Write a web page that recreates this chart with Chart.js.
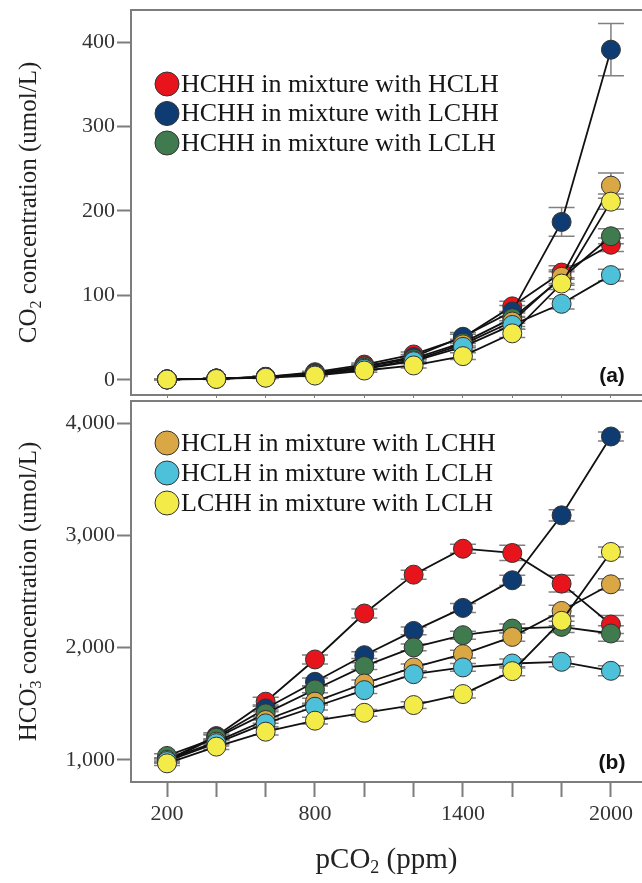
<!DOCTYPE html>
<html>
<head>
<meta charset="utf-8">
<script src="https://cdn.jsdelivr.net/npm/chart.js@4.4.1/dist/chart.umd.min.js"></script>
<style>
    html, body { margin: 0; padding: 0; background: #fff; }
    #lienzo { position: relative; width: 642px; height: 883px; overflow: hidden; }
    #panelA { position: absolute; left: 0; top: 0; }
    #panelB { position: absolute; left: 0; top: 398px; }
</style>
</head>
<body>
<div id="lienzo">
    <canvas id="panelA" width="642" height="398"></canvas>
    <canvas id="panelB" width="642" height="485"></canvas>
</div>
<script>
// --- DATOS ---
const pco2 = [200, 400, 600, 800, 1000, 1200, 1400, 1600, 1800, 2000];
const xTickLabels = [200, 800, 1400, 2000];
const co2Ticks = [0, 100, 200, 300, 400];
const hco3Ticks = [1000, 2000, 3000, 4000];

const seriesNames = [
    'HCHH in mixture with HCLH',
    'HCHH in mixture with LCHH',
    'HCHH in mixture with LCLH',
    'HCLH in mixture with LCHH',
    'HCLH in mixture with LCLH',
    'LCHH in mixture with LCLH'
];
const seriesColors = ['#e8141c', '#0d3b72', '#3f7b4f', '#d9a744', '#4ec1da', '#f3ec48'];

// (a) CO2 (umol/L)
const co2Red    = [0.5, 1.5, 3.5, 9, 18, 30, 50, 87, 127, 160];
const co2Blue   = [0.5, 1.5, 3.5, 8, 16, 27, 51, 81, 187, 391];
const co2Green  = [0.5, 1.5, 3, 7, 16, 25, 44, 73, 120, 170];
const co2Gold   = [0.5, 1.5, 3, 7, 14, 23, 42, 69, 122, 230];
const co2Cyan   = [0.5, 1.5, 3, 6, 13, 22, 39, 65, 90, 124];
const co2Yellow = [0.3, 1, 2.5, 5, 11, 17, 28, 55, 114, 211];

const co2ErrRed    = [0.3, 0.5, 1, 1, 2, 3, 4, 6, 8, 8];
const co2ErrBlue   = [0.3, 0.5, 1, 1, 2, 3, 5, 7, 17, 31];
const co2ErrGreen  = [0.3, 0.5, 1, 1, 2, 3, 4, 6, 8, 9];
const co2ErrGold   = [0.3, 0.5, 1, 1, 2, 3, 4, 6, 8, 15];
const co2ErrCyan   = [0.3, 0.5, 1, 1, 2, 3, 4, 5, 6, 7];
const co2ErrYellow = [0.3, 0.5, 1, 1, 2, 3, 4, 5, 7, 9];

// (b) HCO3- (umol/L)
const hco3Red    = [1000, 1213, 1519, 1895, 2304, 2650, 2881, 2843, 2570, 2206];
const hco3Blue   = [990, 1205, 1459, 1696, 1933, 2149, 2354, 2600, 3178, 3880];
const hco3Green  = [1036, 1198, 1415, 1628, 1836, 2002, 2111, 2170, 2185, 2126];
const hco3Gold   = [1000, 1163, 1356, 1519, 1681, 1824, 1942, 2096, 2327, 2564];
const hco3Cyan   = [990, 1150, 1326, 1474, 1622, 1764, 1824, 1859, 1874, 1794];
const hco3Yellow = [970, 1119, 1252, 1350, 1420, 1489, 1587, 1791, 2239, 2852];

const hco3ErrRed    = [20, 30, 40, 40, 40, 40, 40, 68, 74, 80];
const hco3ErrBlue   = [20, 25, 30, 35, 30, 35, 40, 45, 50, 40];
const hco3ErrGreen  = [20, 25, 30, 30, 30, 30, 35, 40, 50, 70];
const hco3ErrGold   = [20, 25, 30, 30, 30, 30, 35, 40, 50, 50];
const hco3ErrCyan   = [20, 25, 30, 30, 30, 30, 35, 40, 45, 45];
const hco3ErrYellow = [20, 25, 30, 30, 30, 30, 35, 40, 45, 45];

// --- ESTILO ---
const SERIF = '"Liberation Serif", "Times New Roman", serif';
const GRIS_EJE = '#7d7d7d';
const X_MIN = 54, X_MAX = 2126;

function buildDatasets(listas) {
    return listas.map((vals, i) => ({
        label: seriesNames[i],
        data: pco2.map((p, j) => ({ x: p, y: vals[j] })),
        order: listas.length - 1 - i,
        borderColor: '#111',
        borderWidth: 1.8,
        pointRadius: 9.5,
        pointHoverRadius: 9.5,
        pointBackgroundColor: seriesColors[i],
        pointBorderColor: '#333',
        pointBorderWidth: 1,
        fill: false,
        tension: 0
    }));
}

// texto con subíndices / superíndices
function drawRich(ctx, parts, cx, cy, size, angle) {
    const big = size + 'px ' + SERIF;
    const small = Math.round(size * 0.62) + 'px ' + SERIF;
    ctx.save();
    ctx.translate(cx, cy);
    ctx.rotate(angle);
    ctx.textBaseline = 'middle';
    ctx.textAlign = 'left';
    ctx.fillStyle = '#222';
    let total = 0;
    parts.forEach(p => {
        ctx.font = p.k ? small : big;
        if (!p.stack) total += ctx.measureText(p.t).width;
    });
    let x = -total / 2, last = 0;
    parts.forEach(p => {
        ctx.font = p.k ? small : big;
        const w = ctx.measureText(p.t).width;
        const dy = p.k === 'sub' ? size * 0.3 : p.k === 'sup' ? -size * 0.32 : 0;
        const px = p.stack ? x - last : x;
        ctx.fillText(p.t, px, dy);
        if (!p.stack) { x += w; last = w; }
    });
    ctx.restore();
}

const decoPlugin = {
    id: 'deco',
    beforeDatasetsDraw(chart, args, opts) {
        const { ctx, scales: { x, y } } = chart;
        ctx.save();
        ctx.strokeStyle = '#808080';
        ctx.lineWidth = 1.5;
        opts.errors.forEach((errs, i) => {
            chart.data.datasets[i].data.forEach((pt, j) => {
                const px = x.getPixelForValue(pt.x);
                const yTop = y.getPixelForValue(pt.y + errs[j]);
                const yBot = y.getPixelForValue(pt.y - errs[j]);
                ctx.beginPath();
                ctx.moveTo(px, yTop); ctx.lineTo(px, yBot);
                ctx.moveTo(px - 13, yTop); ctx.lineTo(px + 13, yTop);
                ctx.moveTo(px - 13, yBot); ctx.lineTo(px + 13, yBot);
                ctx.stroke();
            });
        });
        ctx.restore();
    },
    afterDraw(chart, args, opts) {
        const { ctx, chartArea: a } = chart;
        ctx.save();
        // borde superior
        ctx.strokeStyle = GRIS_EJE;
        ctx.lineWidth = 2;
        ctx.beginPath();
        ctx.moveTo(a.left, a.top); ctx.lineTo(a.right, a.top);
        ctx.stroke();

        // leyenda interna
        const cxL = a.left + 36;
        opts.legend.forEach((idx, k) => {
            const cy = a.top + opts.legendTop + k * opts.legendGap;
            ctx.beginPath();
            ctx.arc(cxL, cy, 12, 0, Math.PI * 2);
            ctx.fillStyle = seriesColors[idx];
            ctx.fill();
            ctx.lineWidth = 1;
            ctx.strokeStyle = '#333';
            ctx.stroke();
            ctx.fillStyle = '#151515';
            ctx.font = '26px ' + SERIF;
            ctx.textBaseline = 'middle';
            ctx.textAlign = 'left';
            ctx.fillText(seriesNames[idx], cxL + 14, cy + 1);
        });

        // etiqueta del panel
        ctx.font = 'bold 21px "Liberation Sans", Arial, sans-serif';
        ctx.fillStyle = '#111';
        ctx.textAlign = 'center';
        ctx.textBaseline = 'middle';
        ctx.fillText(opts.tag, 612, a.bottom - 19);
        ctx.restore();

        // títulos de ejes
        drawRich(ctx, opts.yTitle, 29, (a.top + a.bottom) / 2, 25, -Math.PI / 2);
        if (opts.xTitle) drawRich(ctx, opts.xTitle, (a.left + a.right) / 2, a.bottom + 78, 29, 0);
    }
};

const tickFont = { family: SERIF, size: 22 };

function yAxis(min, max, ticks, fmt) {
    return {
        type: 'linear', min, max,
        afterBuildTicks: s => { s.ticks = ticks.map(v => ({ value: v })); },
        afterFit: s => { s.width = 131; s.paddingTop = 0; s.paddingBottom = 0; },
        ticks: { font: tickFont, color: '#333', padding: 2, callback: fmt },
        grid: { drawOnChartArea: false, tickLength: 14, tickWidth: 2, tickColor: GRIS_EJE },
        border: { color: GRIS_EJE, width: 2 }
    };
}

function xAxis(alto, conEtiquetas) {
    return {
        type: 'linear', min: X_MIN, max: X_MAX,
        afterBuildTicks: s => { s.ticks = pco2.map(v => ({ value: v })); },
        afterFit: s => { s.height = alto; s.paddingLeft = 0; s.paddingRight = 0; },
        ticks: {
            display: conEtiquetas,
            font: tickFont, color: '#333', padding: 4, maxRotation: 0, autoSkip: false,
            callback: v => xTickLabels.includes(v) ? String(v) : ''
        },
        grid: {
            drawOnChartArea: false,
            tickLength: conEtiquetas ? 15 : 4,
            tickWidth: conEtiquetas ? 2 : 1,
            tickColor: GRIS_EJE
        },
        border: { color: GRIS_EJE, width: 2 }
    };
}

// --- PANEL (a) ---
new Chart(document.getElementById('panelA'), {
    type: 'line',
    data: { datasets: buildDatasets([co2Red, co2Blue, co2Green, co2Gold, co2Cyan, co2Yellow]) },
    plugins: [decoPlugin],
    options: {
        responsive: false,
        animation: false,
        layout: { autoPadding: false, padding: { top: 10, right: 0, bottom: 0, left: 0 } },
        plugins: {
            legend: { display: false },
            tooltip: { enabled: false },
            deco: {
                errors: [co2ErrRed, co2ErrBlue, co2ErrGreen, co2ErrGold, co2ErrCyan, co2ErrYellow],
                legend: [0, 1, 2], legendTop: 74, legendGap: 29.5, tag: '(a)',
                yTitle: [{ t: 'CO' }, { t: '2', k: 'sub' }, { t: ' concentration (umol/L)' }]
            }
        },
        scales: {
            x: xAxis(3, false),
            y: yAxis(-18, 438, co2Ticks, v => String(v))
        }
    }
});

// --- PANEL (b) ---
new Chart(document.getElementById('panelB'), {
    type: 'line',
    data: { datasets: buildDatasets([hco3Red, hco3Blue, hco3Green, hco3Gold, hco3Cyan, hco3Yellow]) },
    plugins: [decoPlugin],
    options: {
        responsive: false,
        animation: false,
        layout: { autoPadding: false, padding: { top: 3, right: 0, bottom: 0, left: 0 } },
        plugins: {
            legend: { display: false },
            tooltip: { enabled: false },
            deco: {
                errors: [hco3ErrRed, hco3ErrBlue, hco3ErrGreen, hco3ErrGold, hco3ErrCyan, hco3ErrYellow],
                legend: [3, 4, 5], legendTop: 42, legendGap: 30, tag: '(b)',
                yTitle: [{ t: 'HCO' }, { t: '3', k: 'sub' }, { t: '-', k: 'sup', stack: true }, { t: ' concentration (umol/L)' }],
                xTitle: [{ t: 'pCO' }, { t: '2', k: 'sub' }, { t: ' (ppm)' }]
            }
        },
        scales: {
            x: xAxis(101, true),
            y: yAxis(804, 4196, hco3Ticks, v => v.toLocaleString('en-US'))
        }
    }
});
</script>
</body>
</html>
